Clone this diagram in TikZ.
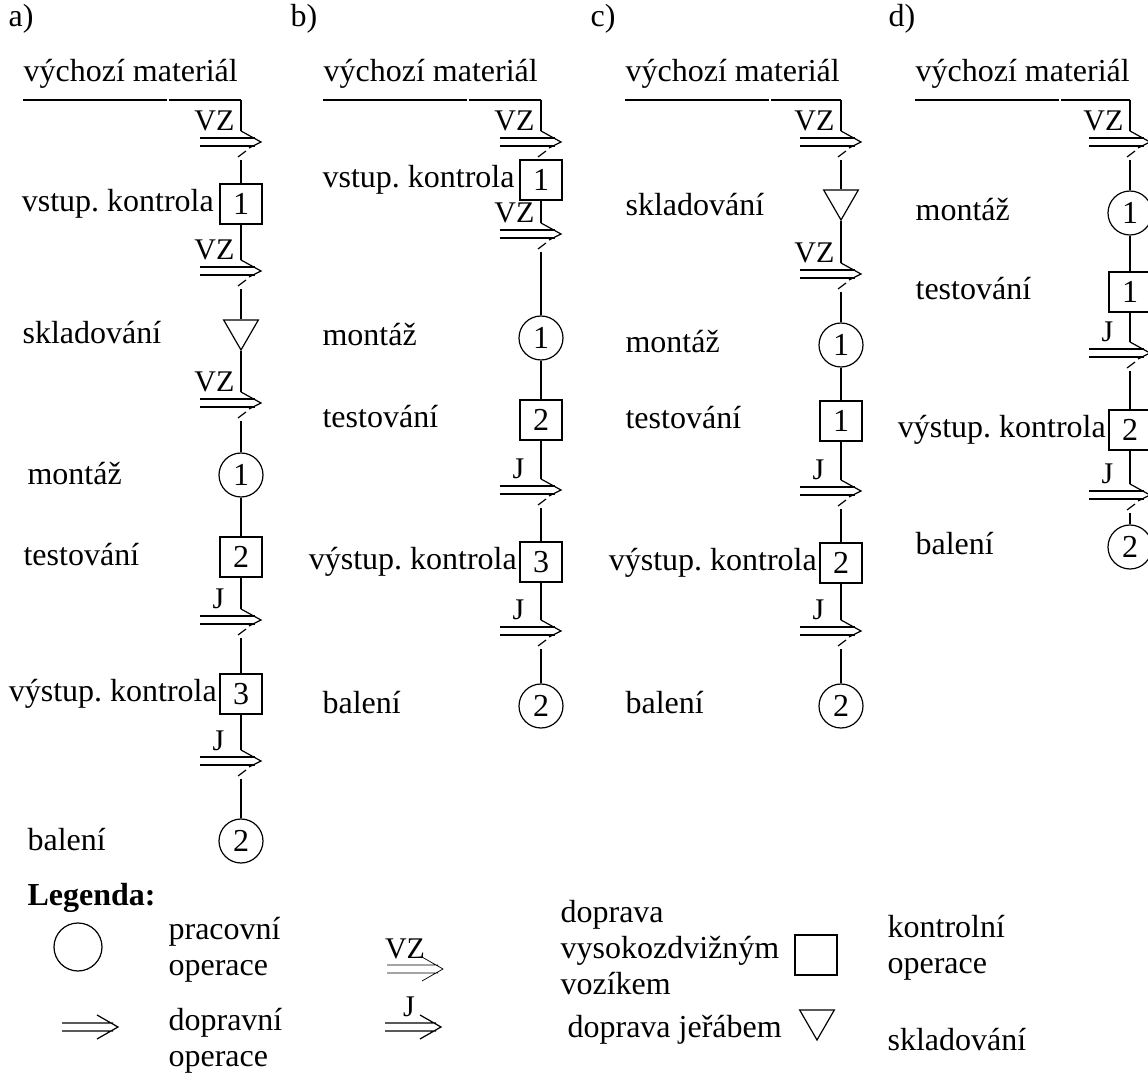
\documentclass[tikz,border=0pt]{standalone}
\usepackage{fontspec}
\setmainfont{Liberation Serif}
\frenchspacing
\usetikzlibrary{calc,positioning,shapes.geometric}

\tikzset{
  txt/.style={font=\fontsize{16}{18}\selectfont,inner sep=0pt},
  lbl/.style={font=\fontsize{15}{17}\selectfont,inner sep=0pt},
  kontrola/.style={draw,minimum width=21pt,minimum height=20pt,inner sep=0pt,font=\fontsize{16}{18}\selectfont},
  operace/.style={draw,circle,minimum size=22pt,inner sep=0pt,font=\fontsize{16}{18}\selectfont},
  sklad/.style={draw,regular polygon,regular polygon sides=3,shape border rotate=180,minimum size=20pt,inner sep=0pt},
}

% doprava: [label shift]{name}{position}{label}
\newcommand{\doprava}[4][6]{%
  \coordinate (#2) at #3;
  \coordinate (#2-in) at ($(#2)+(0,-11)$);
  \coordinate (#2-out) at ($(#2)+(0,18)$);
  \draw (#2-in) -- ++(20,11) -- ++(-12,6) ($(#2)+(5,9)$) -- ++(-8,6);
  \draw ($(#2)+(-41,-4)$) -- ++(55,0) ($(#2)+(-41,4)$) -- ++(55,0);
  \node[lbl,anchor=base east] (#2-l) at ($(#2)+(-#1,-11)$) {#4};
}

\begin{document}
\begin{tikzpicture}[x=0.5pt,y=-0.5pt,line width=0.6pt]
\useasboundingbox (0,0) rectangle (1148,1075);

\foreach \c/\tx/\lx/\X in {a/8/23/241,b/290/323/541,c/590/625/841,d/888/915/1130}{
  \node[txt,anchor=base west] (\c-tag) at (\tx,27) {\c)};
  \node[txt,anchor=base west] (\c-vm) at (\lx,82) {výchozí materiál};
  \coordinate (\c-0) at (\X,100);
  \draw (\c-vm.west |- \c-0) -- ++(144,0) ++(2,0) -- (\c-0);
  \doprava{\c-t1}{(\X,142)}{VZ}
  \draw (\c-0) -- (\c-t1-in);
}

% a)
\node[kontrola] (a-k1) at (241,204) {1};
\node[txt,anchor=base east] (a-k1-l) at ([xshift=-2.5pt,yshift=-4pt]a-k1.west) {vstup. kontrola};
\doprava{a-t2}{(241,271)}{VZ}
\node[sklad] (a-s) at (241,330) {};
\node[txt,anchor=base west] (a-s-l) at (22,344) {skladování};
\doprava{a-t3}{(241,403)}{VZ}
\node[operace] (a-o1) at (241,475) {1};
\node[txt,anchor=base west] (a-o1-l) at (27,485) {montáž};
\node[kontrola] (a-k2) at (241,557) {2};
\node[txt,anchor=base west] (a-k2-l) at (23,566) {testování};
\doprava[16]{a-t4}{(241,620)}{J}
\node[kontrola] (a-k3) at (241,694) {3};
\node[txt,anchor=base east] (a-k3-l) at ([xshift=-1pt,yshift=-4pt]a-k3.west) {výstup. kontrola};
\doprava[16]{a-t5}{(241,761)}{J}
\node[operace] (a-o2) at (241,841) {2};
\node[txt,anchor=base west] (a-o2-l) at (27,850) {balení};
\draw (a-t1-out) -- (a-k1) (a-k1) -- (a-t2-in) (a-t2-out) -- (a-s) (a-s) -- (a-t3-in)
      (a-t3-out) -- (a-o1) (a-o1) -- (a-k2) (a-k2) -- (a-t4-in) (a-t4-out) -- (a-k3)
      (a-k3) -- (a-t5-in) (a-t5-out) -- (a-o2);

% b)
\node[kontrola] (b-k1) at (541,180) {1};
\node[txt,anchor=base west] (b-k1-l) at (322,188) {vstup. kontrola};
\doprava{b-t2}{(541,234)}{VZ}
\node[operace] (b-o1) at (541,338) {1};
\node[txt,anchor=base west] (b-o1-l) at (322,346) {montáž};
\node[kontrola] (b-k2) at (541,420) {2};
\node[txt,anchor=base west] (b-k2-l) at (322,428) {testování};
\doprava[16]{b-t3}{(541,490)}{J}
\node[kontrola] (b-k3) at (541,562) {3};
\node[txt,anchor=base east] (b-k3-l) at ([xshift=-1pt,yshift=-4pt]b-k3.west) {výstup. kontrola};
\doprava[16]{b-t4}{(541,631)}{J}
\node[operace] (b-o2) at (541,706) {2};
\node[txt,anchor=base west] (b-o2-l) at (322,714) {balení};
\draw (b-t1-out) -- (b-k1) (b-k1) -- (b-t2-in) (b-t2-out) -- (b-o1) (b-o1) -- (b-k2)
      (b-k2) -- (b-t3-in) (b-t3-out) -- (b-k3) (b-k3) -- (b-t4-in) (b-t4-out) -- (b-o2);

% c)
\node[sklad] (c-s) at (841,200) {};
\node[txt,anchor=base west] (c-s-l) at (625,216) {skladování};
\doprava{c-t2}{(841,274)}{VZ}
\node[operace] (c-o1) at (841,345) {1};
\node[txt,anchor=base west] (c-o1-l) at (625,353) {montáž};
\node[kontrola] (c-k1) at (841,421) {1};
\node[txt,anchor=base west] (c-k1-l) at (625,429) {testování};
\doprava[16]{c-t3}{(841,491)}{J}
\node[kontrola] (c-k2) at (841,563) {2};
\node[txt,anchor=base east] (c-k2-l) at ([xshift=-1pt,yshift=-4pt]c-k2.west) {výstup. kontrola};
\doprava[16]{c-t4}{(841,631)}{J}
\node[operace] (c-o2) at (841,706) {2};
\node[txt,anchor=base west] (c-o2-l) at (625,714) {balení};
\draw (c-t1-out) -- (c-s) (c-s) -- (c-t2-in) (c-t2-out) -- (c-o1) (c-o1) -- (c-k1)
      (c-k1) -- (c-t3-in) (c-t3-out) -- (c-k2) (c-k2) -- (c-t4-in) (c-t4-out) -- (c-o2);

% d)
\node[operace] (d-o1) at (1130,213) {1};
\node[txt,anchor=base west] (d-o1-l) at (915,221) {montáž};
\node[kontrola] (d-k1) at (1130,292) {1};
\node[txt,anchor=base west] (d-k1-l) at (915,300) {testování};
\doprava[16]{d-t2}{(1130,353)}{J}
\node[kontrola] (d-k2) at (1130,430) {2};
\node[txt,anchor=base east] (d-k2-l) at ([xshift=-1pt,yshift=-4pt]d-k2.west) {výstup. kontrola};
\doprava[16]{d-t3}{(1130,495)}{J}
\node[operace] (d-o2) at (1130,547) {2};
\node[txt,anchor=base west] (d-o2-l) at (915,555) {balení};
\draw (d-t1-out) -- (d-o1) (d-o1) -- (d-k1) (d-k1) -- (d-t2-in) (d-t2-out) -- (d-k2)
      (d-k2) -- (d-t3-in) (d-t3-out) -- (d-o2);

% legenda
\node[txt,anchor=base west,font=\fontsize{16}{18}\selectfont\bfseries] (leg) at (27,905) {Legenda:};
\node[draw,circle,minimum size=24pt,inner sep=0pt] (leg-o) at (78,947) {};
\node[txt,anchor=west,align=left] (leg-o-l) at (168,950) {pracovní\\operace};
\node[txt,anchor=west,align=left] (leg-d-l) at (168,1041) {dopravní\\operace};
\foreach \tx/\ty/\w in {118/1027/0.6pt,443/969/0.35pt,441/1027/0.6pt}{
  \draw[line width=\w] (\tx-56,\ty-4) -- ++(51,0) (\tx-56,\ty+4) -- ++(51,0)
    (\tx-21,\ty-12) -- (\tx,\ty) -- (\tx-21,\ty+12);
}
\node[lbl,anchor=base] (leg-vz) at (405,958) {VZ};
\node[lbl,anchor=base] (leg-j) at (409,1016) {J};
\node[txt,anchor=west,align=left] (leg-vz-l) at (560,948) {doprava\\vysokozdvižným\\vozíkem};
\node[txt,anchor=west] (leg-j-l) at (567,1030) {doprava jeřábem};
\node[kontrola] (leg-k) at (816,955) {};
\node[txt,anchor=west,align=left] (leg-k-l) at (887,948) {kontrolní\\operace};
\node[sklad] (leg-s) at (817,1020) {};
\node[txt,anchor=west] (leg-s-l) at (887,1040) {skladování};
\end{tikzpicture}
\end{document}
